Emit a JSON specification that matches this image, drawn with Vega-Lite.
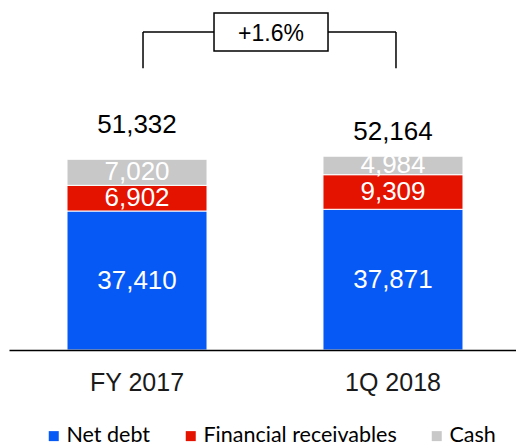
{
  "$schema": "https://vega.github.io/schema/vega-lite/v6.json",
  "width": 507,
  "height": 350,
  "autosize": "none",
  "padding": {"left": 9, "top": 0, "right": 0, "bottom": 96},
  "background": "white",
  "config": {"view": {"stroke": null}},
  "datasets": {
    "debt": [
      {"period": "FY 2017", "type": "Net debt", "value": 37410},
      {"period": "FY 2017", "type": "Financial receivables", "value": 6902},
      {"period": "FY 2017", "type": "Cash", "value": 7020},
      {"period": "1Q 2018", "type": "Net debt", "value": 37871},
      {"period": "1Q 2018", "type": "Financial receivables", "value": 9309},
      {"period": "1Q 2018", "type": "Cash", "value": 4984}
    ],
    "change": [
      {"from": "FY 2017", "to": "1Q 2018", "change": "+1.6%"}
    ]
  },
  "layer": [
    {
      "data": {"name": "debt"},
      "transform": [
        {"stack": "value", "groupby": ["period"], "sort": [{"field": "type", "order": "descending"}], "as": ["v0", "v1"]}
      ],
      "layer": [
        {
          "mark": {"type": "bar", "stroke": "white", "strokeWidth": 1},
          "encoding": {
            "x": {
              "field": "period", "type": "nominal", "sort": ["FY 2017", "1Q 2018"],
              "scale": {"domain": ["FY 2017", "1Q 2018"], "range": [0, 512], "paddingInner": 0.453, "paddingOuter": 0.2266},
              "axis": {
                "title": null, "labelAngle": 0, "ticks": false, "domainColor": "black", "domainWidth": 1.5,
                "labelFont": "Liberation Sans", "labelFontSize": 25, "labelColor": "#1a1a1a",
                "labelPadding": 40, "labelBaseline": "alphabetic", "zindex": 1
              }
            },
            "y": {"field": "v1", "type": "quantitative", "scale": {"domain": [0, 94200], "nice": false, "zero": true}, "axis": null},
            "y2": {"field": "v0"},
            "color": {
              "field": "type", "type": "nominal",
              "scale": {"domain": ["Net debt", "Financial receivables", "Cash"], "range": ["#0759F6", "#E41300", "#C8C8C8"]},
              "legend": {
                "title": null, "orient": "none", "direction": "horizontal", "legendX": 34, "legendY": 425,
                "symbolType": "square", "symbolSize": 100, "symbolStrokeWidth": 0, "labelFont": "Lato",
                "labelFontSize": 21.5, "labelColor": "#000", "columnPadding": 29, "labelOffset": 2, "padding": 0,
                "labelLimit": 400
              }
            }
          }
        },
        {
          "transform": [
            {"fold": ["v0", "v1"], "as": ["edge", "pos"]},
            {"aggregate": [{"op": "mean", "field": "pos", "as": "mid"}, {"op": "max", "field": "value", "as": "value"}], "groupby": ["period", "type"]}
          ],
          "mark": {"type": "text", "color": "white", "font": "Liberation Sans", "fontSize": 26, "baseline": "middle"},
          "encoding": {
            "x": {"field": "period", "type": "nominal"},
            "y": {"field": "mid", "type": "quantitative"},
            "text": {"field": "value", "type": "quantitative", "format": ","}
          }
        },
        {
          "transform": [{"filter": "datum.type === 'Cash' && datum.period === 'FY 2017'"}],
          "mark": {"type": "text", "color": "black", "font": "Liberation Sans", "fontSize": 26, "baseline": "alphabetic", "dy": -26},
          "encoding": {
            "x": {"field": "period", "type": "nominal"},
            "y": {"field": "v1", "type": "quantitative"},
            "text": {"field": "v1", "type": "quantitative", "format": ","}
          }
        },
        {
          "transform": [{"filter": "datum.type === 'Cash' && datum.period === '1Q 2018'"}],
          "mark": {"type": "text", "color": "black", "font": "Liberation Sans", "fontSize": 26, "baseline": "alphabetic", "dy": -16.5},
          "encoding": {
            "x": {"field": "period", "type": "nominal"},
            "y": {"field": "v1", "type": "quantitative"},
            "text": {"field": "v1", "type": "quantitative", "format": ","}
          }
        }
      ]
    },
    {
      "data": {"name": "change"},
      "layer": [
        {
          "mark": {"type": "rule", "color": "black", "strokeWidth": 1.5, "xOffset": 6, "x2Offset": 3},
          "encoding": {
            "x": {"field": "from", "type": "nominal"},
            "x2": {"field": "to"},
            "y": {"datum": 85585, "type": "quantitative"}
          }
        },
        {
          "mark": {"type": "rule", "color": "black", "strokeWidth": 1.5, "xOffset": 6},
          "encoding": {
            "x": {"field": "from", "type": "nominal"},
            "y": {"datum": 85585, "type": "quantitative"},
            "y2": {"datum": 75815}
          }
        },
        {
          "mark": {"type": "rule", "color": "black", "strokeWidth": 1.5, "xOffset": 3},
          "encoding": {
            "x": {"field": "to", "type": "nominal"},
            "y": {"datum": 85585, "type": "quantitative"},
            "y2": {"datum": 75815}
          }
        },
        {
          "mark": {"type": "point", "shape": "M-3,-1H3V1H-3Z", "size": 1444, "filled": true, "fill": "white", "stroke": "black", "strokeWidth": 1.5, "opacity": 1, "xOffset": 134},
          "encoding": {
            "x": {"field": "from", "type": "nominal"},
            "y": {"datum": 85585, "type": "quantitative"}
          }
        },
        {
          "mark": {"type": "text", "color": "black", "font": "Liberation Sans", "fontSize": 23, "baseline": "middle", "xOffset": 134, "dy": 1.5},
          "encoding": {
            "x": {"field": "from", "type": "nominal"},
            "y": {"datum": 85585, "type": "quantitative"},
            "text": {"field": "change"}
          }
        }
      ]
    }
  ]
}
